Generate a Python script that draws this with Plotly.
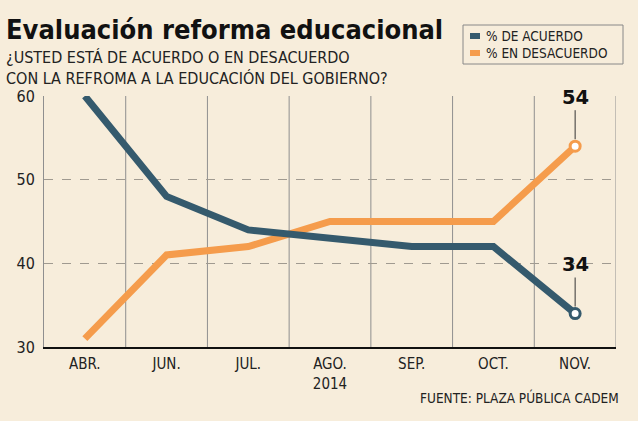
import plotly.graph_objects as go

months = ["ABR.", "JUN.", "JUL.", "AGO.<br>2014", "SEP.", "OCT.", "NOV."]
acuerdo = [60, 48, 44, 43, 42, 42, 34]
desacuerdo = [31, 41, 42, 45, 45, 45, 54]
yticks = [30, 40, 50, 60]

BG = "#f7eddb"
BLUE = "#355a6d"
ORANGE = "#f59c4c"
FONT = "DejaVu Sans Condensed, sans-serif"

W, H = 638, 421
L, R, T, B = 44, 22, 96, 74
PW, PH = W - L - R, H - T - B


def px(v):
    return (v - L) / PW


def py(v):
    return 1 - (v - T) / PH


x = list(range(len(months)))
fig = go.Figure()
fig.add_trace(go.Scatter(x=x, y=desacuerdo, mode="lines", line=dict(color=ORANGE, width=7),
                         name="% EN DESACUERDO", cliponaxis=False, showlegend=False))
fig.add_trace(go.Scatter(x=x, y=acuerdo, mode="lines", line=dict(color=BLUE, width=7),
                         name="% DE ACUERDO", cliponaxis=False, showlegend=False))
for ser, col in [(desacuerdo, ORANGE), (acuerdo, BLUE)]:
    fig.add_trace(go.Scatter(x=[x[-1]], y=[ser[-1]], mode="markers", cliponaxis=False, showlegend=False,
                             marker=dict(size=10, color="white", line=dict(color=col, width=3))))

shapes = []
for i in range(len(months)):
    shapes.append(dict(type="line", xref="x", yref="paper", x0=i + 0.5, x1=i + 0.5, y0=0, y1=1,
                       line=dict(color="#8f8f8f", width=1), layer="below"))
shapes.append(dict(type="rect", xref="paper", yref="paper", x0=px(463), x1=px(623),
                   y0=py(64), y1=py(25), line=dict(color="#888", width=1), fillcolor=BG))
for yy, col in [(36, BLUE), (53, ORANGE)]:
    shapes.append(dict(type="line", xref="paper", yref="paper", x0=px(470), x1=px(480),
                       y0=py(yy), y1=py(yy), line=dict(color=col, width=6)))

annotations = [
    dict(text="<b>Evaluación reforma educacional</b>", xref="paper", yref="paper", x=px(4), y=py(47),
         xanchor="left", yanchor="bottom", showarrow=False,
         font=dict(family=FONT, size=27, color="#111")),
    dict(text="¿USTED ESTÁ DE ACUERDO O EN DESACUERDO<br>CON LA REFROMA A LA EDUCACIÓN DEL GOBIERNO?",
         xref="paper", yref="paper", x=px(4), y=py(67.5), xanchor="left", yanchor="middle",
         align="left", showarrow=False, font=dict(family=FONT, size=16, color="#222")),
    dict(text="% DE ACUERDO", xref="paper", yref="paper", x=px(484), y=py(36), xanchor="left",
         yanchor="middle", showarrow=False, font=dict(family=FONT, size=13.5, color="#222")),
    dict(text="% EN DESACUERDO", xref="paper", yref="paper", x=px(484), y=py(53), xanchor="left",
         yanchor="middle", showarrow=False, font=dict(family=FONT, size=13.5, color="#222")),
    dict(text="FUENTE: PLAZA PÚBLICA CADEM", xref="paper", yref="paper", x=px(621), y=py(397.5),
         xanchor="right", yanchor="middle", showarrow=False, font=dict(family=FONT, size=13.5, color="#222")),
]
for ser in [desacuerdo, acuerdo]:
    annotations.append(dict(text="<b>%d</b>" % ser[-1], x=x[-1], y=ser[-1], xref="x", yref="y",
                            showarrow=True, arrowhead=0, arrowwidth=1, arrowcolor="#333",
                            ax=0, ay=-49, standoff=7,
                            font=dict(family="DejaVu Sans, sans-serif", size=19.5, color="#111")))

fig.update_layout(
    width=W, height=H, paper_bgcolor=BG, plot_bgcolor=BG,
    margin=dict(l=L, r=R, t=T, b=B),
    shapes=shapes, annotations=annotations, showlegend=False,
    xaxis=dict(range=[-0.5, 6.5], tickvals=x, ticktext=months, showgrid=False, zeroline=False,
               showline=True, linecolor="#111", linewidth=2, ticks="", fixedrange=True,
               ticklabelstandoff=2,
               tickfont=dict(family=FONT, size=15, color="#222")),
    yaxis=dict(range=[30, 60], tickvals=yticks, showgrid=True, gridcolor="#a09a90", griddash="dash",
               gridwidth=1, zeroline=False, showline=True, linecolor="#8f8f8f", linewidth=1,
               ticks="", ticklabelstandoff=5,
               tickfont=dict(family=FONT, size=16, color="#222")),
)
fig.write_html("out.html")
